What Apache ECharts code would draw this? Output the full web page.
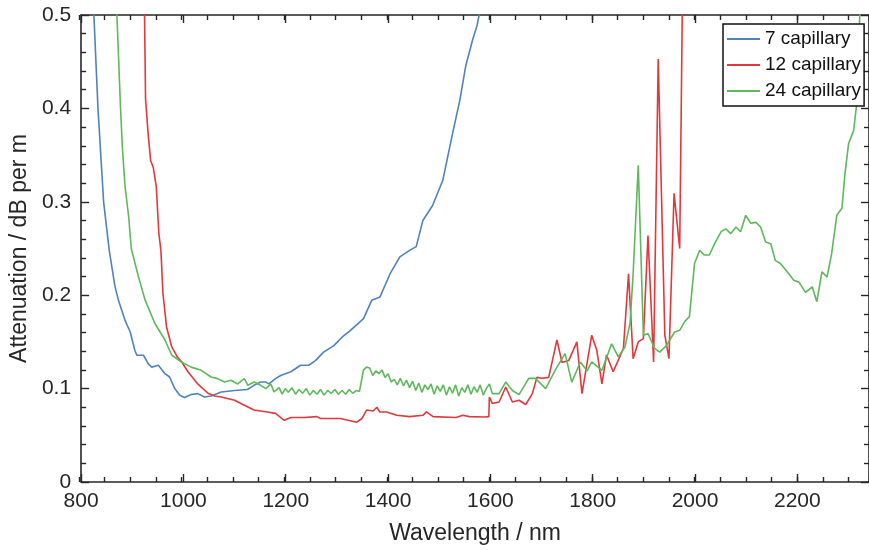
<!DOCTYPE html>
<html>
<head>
<meta charset="utf-8">
<script src="https://cdn.jsdelivr.net/npm/echarts@6/dist/echarts.min.js"></script>
<style>
  html, body { margin: 0; padding: 0; background: #fff; }
  #chart { width: 869px; height: 550px; }
</style>
</head>
<body>
<div id="chart"></div>
<script>
const chart = echarts.init(document.getElementById("chart"));

// ==========================
// DATA (wavelength nm, attenuation dB/m)
// ==========================

const names = ["7 capillary", "12 capillary", "24 capillary"];
const colors = ["#5083b8", "#e0393d", "#5fb85c"];

const wl7 = [822, 825, 833, 844, 855, 866, 873, 886, 896, 905, 909, 922, 931, 938, 951, 964, 973, 983, 993, 1002,
  1015, 1028, 1041, 1054, 1074, 1100, 1125, 1138, 1151, 1161, 1167, 1180, 1190, 1210, 1229, 1245, 1258, 1274, 1294, 1310,
  1326, 1352, 1368, 1384, 1404, 1423, 1442, 1455, 1468, 1487, 1507, 1526, 1540, 1552, 1565, 1574, 1578, 1580];
const att7 = [0.53, 0.5, 0.40, 0.30, 0.248, 0.21, 0.1945, 0.173, 0.1606, 0.141, 0.1357, 0.1357, 0.1268, 0.123, 0.125, 0.116, 0.1124, 0.100, 0.0928, 0.0904,
  0.0936, 0.0946, 0.091, 0.092, 0.0964, 0.098, 0.099, 0.1035, 0.107, 0.107, 0.105, 0.1107, 0.114, 0.118, 0.125, 0.125, 0.13, 0.139, 0.146, 0.155,
  0.162, 0.175, 0.1945, 0.198, 0.223, 0.241, 0.248, 0.252, 0.28, 0.296, 0.323, 0.373, 0.408, 0.446, 0.473, 0.489, 0.5, 0.53];

const wl12 = [920, 924, 926, 931, 936, 941, 947, 952, 956, 960, 967, 977, 988, 996, 1009, 1028, 1048, 1061, 1074, 1100,
  1120, 1138, 1164, 1180, 1197, 1210, 1235, 1261, 1268, 1307, 1339, 1349, 1358, 1371, 1378, 1384, 1397, 1417, 1442, 1468,
  1475, 1488, 1533, 1546, 1559, 1588, 1597, 1598, 1604, 1617, 1630, 1643, 1656, 1669, 1682, 1691, 1701, 1714, 1730, 1740,
  1753, 1769, 1779, 1798, 1808, 1818, 1827, 1840, 1860, 1870, 1879, 1889, 1899, 1908, 1919, 1928, 1941, 1949, 1959, 1970,
  1975, 1976];
const att12 = [0.53, 0.5, 0.41, 0.373, 0.344, 0.337, 0.316, 0.266, 0.248, 0.202, 0.166, 0.145, 0.134, 0.129, 0.118, 0.105, 0.095, 0.092, 0.091, 0.0875,
  0.082, 0.077, 0.075, 0.0735, 0.066, 0.069, 0.069, 0.070, 0.068, 0.068, 0.064, 0.068, 0.077, 0.076, 0.080, 0.075, 0.075, 0.0714, 0.070, 0.0714,
  0.075, 0.070, 0.069, 0.0714, 0.070, 0.0696, 0.070, 0.091, 0.084, 0.0857, 0.1017, 0.0857, 0.0875, 0.083, 0.0946, 0.112, 0.111, 0.112, 0.152, 0.128,
  0.130, 0.150, 0.0946, 0.157, 0.141, 0.105, 0.136, 0.118, 0.143, 0.223, 0.132, 0.150, 0.1535, 0.264, 0.1285, 0.453, 0.157, 0.132, 0.309, 0.250,
  0.5, 0.53];

const wl24 = [868, 870, 874, 877, 881, 886, 893, 898, 912, 925, 944, 964, 977, 996, 1015, 1035, 1054, 1067, 1080, 1093,
  1106, 1119, 1126, 1138, 1151, 1161, 1171, 1177, 1187, 1193, 1199, 1205, 1212, 1219, 1226, 1233, 1240, 1247, 1254, 1261,
  1268, 1275, 1282, 1289, 1296, 1303, 1310, 1317, 1324, 1331, 1338, 1344, 1352, 1358, 1364, 1370, 1376, 1382, 1388, 1394,
  1400, 1406, 1412, 1418, 1424, 1430, 1436, 1442, 1448, 1454, 1460, 1466, 1472, 1478, 1484, 1490, 1496, 1502, 1508, 1514,
  1520, 1526, 1532, 1538, 1544, 1550, 1556, 1562, 1568, 1574, 1580, 1586, 1592, 1598, 1604, 1617, 1630, 1643, 1656, 1675,
  1688, 1708, 1727, 1746, 1759, 1776, 1789, 1798, 1818, 1837, 1850, 1863, 1873, 1879, 1889, 1899, 1908, 1921, 1931, 1944,
  1960, 1970, 1980, 1989, 1999, 2009, 2018, 2028, 2038, 2051, 2060, 2070, 2080, 2089, 2099, 2109, 2119, 2128, 2138, 2148,
  2157, 2167, 2180, 2193, 2203, 2216, 2229, 2238, 2248, 2258, 2267, 2277, 2287, 2293, 2300, 2310, 2316, 2322, 2324];
const att24 = [0.53, 0.5, 0.444, 0.401, 0.355, 0.316, 0.284, 0.25, 0.22, 0.195, 0.17, 0.152, 0.136, 0.1285, 0.123, 0.1196, 0.1124, 0.1107, 0.107, 0.109,
  0.105, 0.1107, 0.1035, 0.107, 0.1035, 0.100, 0.105, 0.0964, 0.101, 0.094, 0.100, 0.096, 0.101, 0.094, 0.099, 0.095, 0.100, 0.093, 0.098, 0.094,
  0.099, 0.093, 0.098, 0.095, 0.099, 0.094, 0.098, 0.094, 0.099, 0.095, 0.098, 0.097, 0.120, 0.123, 0.122, 0.114, 0.119, 0.116, 0.120, 0.112,
  0.116, 0.107, 0.110, 0.104, 0.111, 0.103, 0.109, 0.101, 0.108, 0.098, 0.106, 0.096, 0.104, 0.099, 0.105, 0.094, 0.103, 0.097, 0.104, 0.093,
  0.102, 0.095, 0.104, 0.092, 0.101, 0.096, 0.104, 0.094, 0.102, 0.096, 0.104, 0.093, 0.100, 0.105, 0.0946, 0.0946, 0.107, 0.098, 0.0935, 0.111,
  0.111, 0.100, 0.120, 0.1375, 0.107, 0.1285, 0.119, 0.1285, 0.1196, 0.148, 0.134, 0.1445, 0.170, 0.223, 0.339, 0.157, 0.159, 0.143, 0.139, 0.146,
  0.1606, 0.1624, 0.172, 0.177, 0.234, 0.248, 0.243, 0.243, 0.255, 0.268, 0.271, 0.266, 0.273, 0.268, 0.2855, 0.277, 0.278, 0.273, 0.257, 0.255,
  0.237, 0.234, 0.225, 0.216, 0.214, 0.203, 0.209, 0.193, 0.225, 0.2195, 0.2445, 0.2855, 0.293, 0.330, 0.362, 0.3765, 0.405, 0.5, 0.53];

const xTicks = { min: 800, max: 2340, major: 200, minor: 50 };
const yTicks = { min: 0, max: 0.5, major: 0.1 };

// ==========================
// HELPERS
// ==========================

const INK = "#262626";
const FONT = "Liberation Sans, Arial, sans-serif";

function zip(xs, ys) {
  return xs.map((x, i) => [x, ys[i]]);
}

function xAxisOf(gridIndex, position, interval, tickLen, withLabels, showLine) {
  return {
    type: "value",
    gridIndex: gridIndex,
    position: position,
    min: xTicks.min,
    max: xTicks.max,
    interval: interval,
    splitLine: { show: false },
    axisLine: { show: showLine, onZero: false, lineStyle: { color: INK, width: 1.6 } },
    axisTick: { show: true, inside: true, length: tickLen, lineStyle: { color: INK, width: 1.4 } },
    axisLabel: {
      show: withLabels,
      showMaxLabel: false,
      color: INK,
      fontSize: 21,
      fontFamily: FONT,
      margin: 9,
      formatter: (v) => String(v)
    },
    name: withLabels ? "Wavelength / nm" : "",
    nameLocation: "middle",
    nameGap: 40,
    nameTextStyle: { color: INK, fontSize: 23, fontFamily: FONT }
  };
}

function yAxisOf(position, withLabels) {
  return {
    type: "value",
    gridIndex: 0,
    position: position,
    min: yTicks.min,
    max: yTicks.max,
    interval: yTicks.major,
    splitLine: { show: false },
    axisLine: { show: true, onZero: false, lineStyle: { color: INK, width: 1.6 } },
    axisTick: { show: true, inside: true, length: 8, lineStyle: { color: INK, width: 1.4 } },
    minorTick: { show: true, splitNumber: 5, length: 5, lineStyle: { color: INK, width: 1.4 } },
    axisLabel: {
      show: withLabels,
      color: INK,
      fontSize: 21,
      fontFamily: FONT,
      margin: 10
    },
    name: withLabels ? "Attenuation / dB per m" : "",
    nameLocation: "middle",
    nameGap: 44,
    nameTextStyle: { color: INK, fontSize: 23, fontFamily: FONT }
  };
}

const gridBox = { left: 79, top: 15, right: -3, bottom: 68 };

// ==========================
// CHART
// ==========================

chart.setOption({
  animation: false,
  backgroundColor: "#fff",
  grid: [Object.assign({}, gridBox), Object.assign({}, gridBox)],
  xAxis: [
    xAxisOf(0, "bottom", xTicks.major, 8, true, true),
    xAxisOf(0, "top", xTicks.major, 8, false, true),
    xAxisOf(1, "bottom", xTicks.minor, 5, false, false),
    xAxisOf(1, "top", xTicks.minor, 5, false, false)
  ],
  yAxis: [
    yAxisOf("left", true),
    yAxisOf("right", false),
    { type: "value", gridIndex: 1, show: false, min: 0, max: 1 }
  ],
  legend: {
    orient: "vertical",
    left: 723,
    top: 24,
    data: names,
    icon: "rect",
    backgroundColor: "#fff",
    borderColor: "#111",
    borderWidth: 1.5,
    borderRadius: 0,
    padding: [4, 3, 4, 4],
    itemWidth: 33,
    itemHeight: 2,
    itemGap: 4,
    textStyle: { color: "#111", fontSize: 19, fontFamily: FONT, lineHeight: 22 }
  },
  series: [
    [wl7, att7],
    [wl12, att12],
    [wl24, att24]
  ].map((pair, i) => ({
    name: names[i],
    type: "line",
    xAxisIndex: 0,
    yAxisIndex: 0,
    data: zip(pair[0], pair[1]),
    symbol: "none",
    clip: true,
    color: colors[i],
    lineStyle: { color: colors[i], width: 1.6 }
  }))
});
</script>
</body>
</html>
